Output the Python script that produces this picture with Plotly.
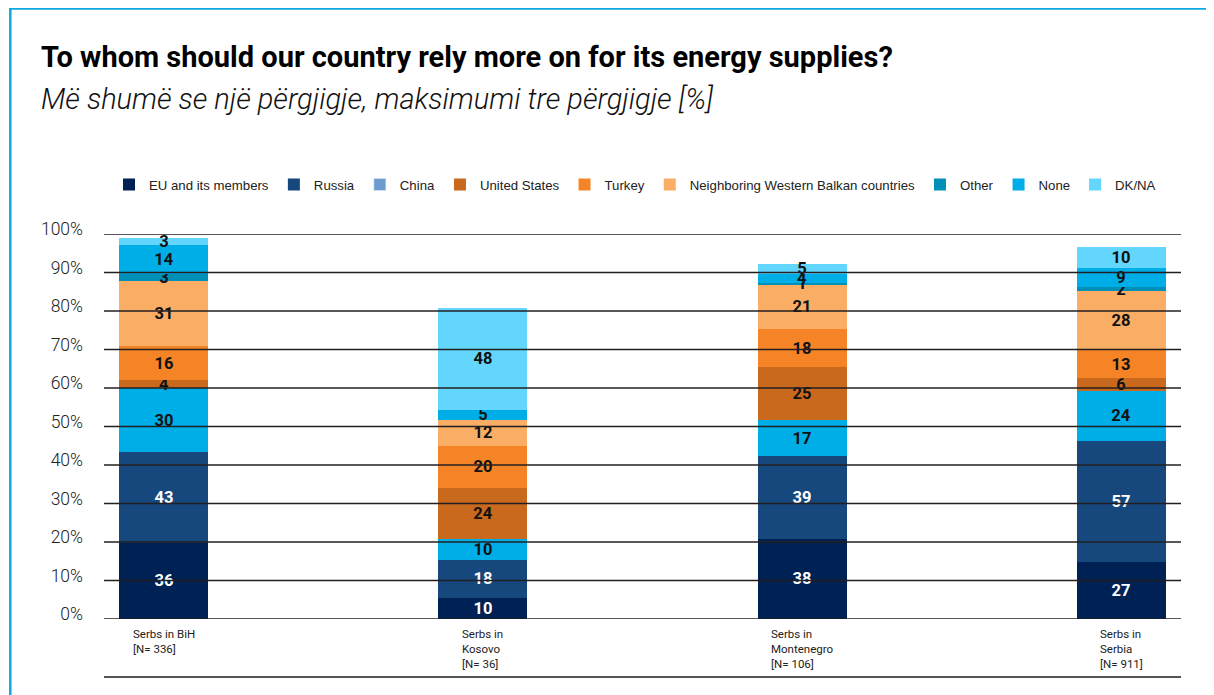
import plotly.graph_objects as go

# ---------------- data ----------------
groups = ["BiH", "Kosovo", "Montenegro", "Serbia"]
group_labels = [
    "Serbs in BiH<br>[N= 336]",
    "Serbs in<br>Kosovo<br>[N= 36]",
    "Serbs in<br>Montenegro<br>[N= 106]",
    "Serbs in<br>Serbia<br>[N= 911]",
]
series_names = ["EU and its members", "Russia", "China", "United States", "Turkey",
                "Neighboring Western Balkan countries", "Other", "None", "DK/NA"]
eu = [36, 10, 38, 27]
russia = [43, 18, 39, 57]
china = [30, 10, 17, 24]
united_states = [4, 24, 25, 6]
turkey = [16, 20, 18, 13]
neighboring = [31, 12, 21, 28]
other = [3, 0, 1, 2]
none_ = [14, 5, 4, 9]
dk_na = [3, 48, 5, 10]
tick_percents = [0, 10, 20, 30, 40, 50, 60, 70, 80, 90, 100]

series_values = [eu, russia, china, united_states, turkey, neighboring, other, none_, dk_na]

# ---------------- style ----------------
colors = ["#002153", "#16477d", "#6b9bcf", "#c8691d", "#f58427", "#f9ad65", "#0090b7", "#00aee7", "#62d6fc"]
bar_colors = list(colors)
bar_colors[2] = "#00aee7"  # China segments are drawn in the bright blue in the reference
text_colors = ["#ffffff", "#ffffff", "#111111", "#111111", "#111111", "#111111", "#111111", "#111111", "#111111"]
SCALE = 1.82  # answer points per percent of axis

# page has an 8px body margin: figure is placed at (8, 8)
OFF = 8
W, H = 1214 - OFF, 695 - OFF
ML, MR, MT, MB = 104 - OFF, 33, 234 - OFF, 76
PW, PH = W - ML - MR, H - MT - MB


def px_x(x):
    return (x - OFF - ML) / PW


def px_y(y):
    return (H - MB - (y - OFF)) / PH


fig = go.Figure()
for i, (name, vals) in enumerate(zip(series_names, series_values)):
    showleg = True
    if name == "China":
        # legend-only entry carrying the legend swatch colour
        fig.add_trace(go.Bar(x=[None], y=[None], name=name, marker_color=colors[i],
                             showlegend=True, hoverinfo="skip"))
        showleg = False
    fig.add_trace(go.Bar(
        x=groups, y=vals, name=name, showlegend=showleg,
        marker=dict(color=bar_colors[i], line=dict(width=0)),
        text=[str(v) if v else "" for v in vals],
        textposition="inside", insidetextanchor="middle", constraintext="none", textangle=0,
        textfont=dict(family="Roboto", size=16.5, weight=700, color=text_colors[i]),
        cliponaxis=False, width=0.279,
    ))

tickvals = [p * SCALE for p in tick_percents]
ticktext = [f"{p}%" for p in tick_percents]

shapes = []
for tv in tickvals:
    shapes.append(dict(type="line", xref="paper", x0=0, x1=1, yref="y", y0=tv, y1=tv,
                       line=dict(color="#231f20", width=1.6), layer="above"))
# bottom separator line
shapes.append(dict(type="line", xref="paper", x0=0, x1=1, yref="paper",
                   y0=px_y(677), y1=px_y(677), line=dict(color="#555555", width=2)))
# frame (top and left)
shapes.append(dict(type="line", xref="paper", yref="paper", x0=px_x(9), x1=px_x(1214),
                   y0=px_y(8.5), y1=px_y(8.5), line=dict(color="#0fa8e0", width=2.5)))
shapes.append(dict(type="line", xref="paper", yref="paper", x0=px_x(10.3), x1=px_x(10.3),
                   y0=px_y(8), y1=px_y(695), line=dict(color="#0fa8e0", width=2.5)))

annotations = [
    dict(text="To whom should our country rely more on for its energy supplies?",
         xref="paper", yref="paper", x=px_x(39), y=px_y(57), xanchor="left", yanchor="middle",
         showarrow=False, font=dict(family="Roboto", size=29, weight=700, color="#000000")),
    dict(text="Më shumë se një përgjigje, maksimumi tre përgjigje [%]",
         xref="paper", yref="paper", x=px_x(39), y=px_y(99), xanchor="left", yanchor="middle",
         showarrow=False, font=dict(family="Roboto", size=29, weight=300, style="italic", color="#111111")),
]
for g, lab in zip(groups, group_labels):
    annotations.append(dict(text=lab, x=g, y=0, xref="x", yref="y", xanchor="center",
                            yanchor="top", yshift=-6, align="left", showarrow=False,
                            font=dict(family="Roboto", size=11.5, color="#222222")))

fig.update_layout(
    width=W, height=H,
    margin=dict(l=ML, r=MR, t=MT, b=MB, pad=0),
    barmode="stack",
    paper_bgcolor="white", plot_bgcolor="white",
    font=dict(family="Roboto", color="#222222"),
    uniformtext=dict(minsize=16, mode="show"),
    showlegend=True,
    legend=dict(orientation="h", x=px_x(109), xanchor="left", y=px_y(185), yanchor="middle",
                font=dict(family="Liberation Sans, Arial", size=13.2, color="#222222"),
                itemwidth=30, traceorder="normal", bgcolor="rgba(0,0,0,0)",
                itemclick=False, itemdoubleclick=False),
    xaxis=dict(range=[-0.188, 3.188], showticklabels=False, showgrid=False, zeroline=False,
               showline=False, ticks="", fixedrange=True),
    yaxis=dict(range=[0, 100 * SCALE], tickvals=tickvals, ticktext=ticktext, showgrid=False,
               zeroline=False, showline=False, ticks="", ticklabelstandoff=20, ticklabelshift=-5,
               tickfont=dict(family="Roboto", size=17.5, weight=300, color="#222222"), fixedrange=True),
    shapes=shapes,
    annotations=annotations,
    hovermode=False,
)

fig.write_html("out.html", config={"displayModeBar": False})
